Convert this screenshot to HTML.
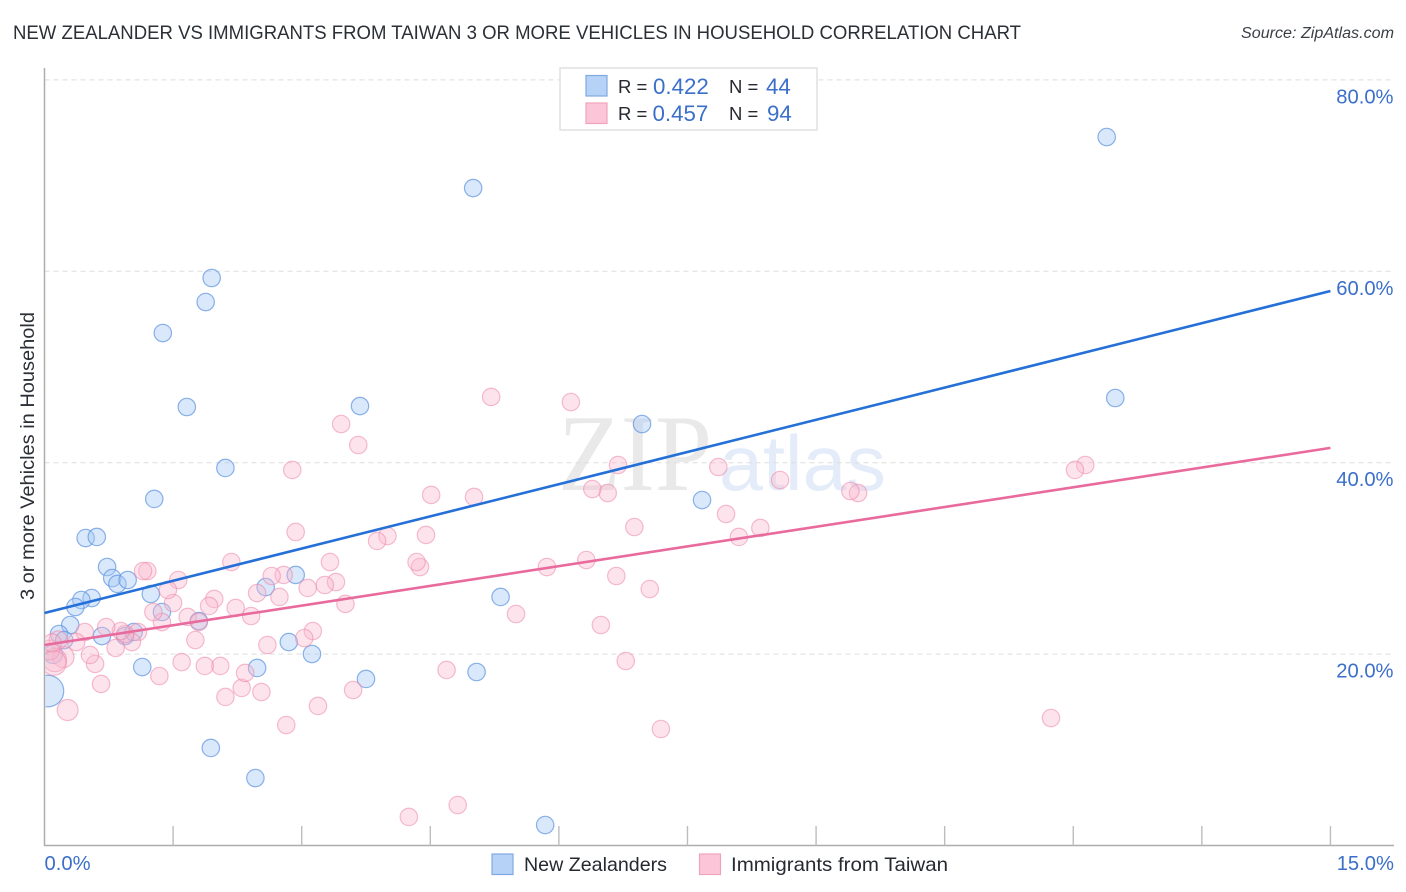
<!DOCTYPE html>
<html lang="en">
<head>
<meta charset="utf-8">
<title>New Zealander vs Immigrants from Taiwan correlation chart</title>
<style>
html,body{margin:0;padding:0;background:#fff;}
svg{display:block;}
text{font-family:"Liberation Sans",sans-serif;}
</style>
</head>
<body>
<svg id="chart" width="1406" height="892" viewBox="0 0 1406 892" xmlns="http://www.w3.org/2000/svg">
  <defs><clipPath id="plot-clip"><rect x="45.5" y="60" width="1350" height="785"/></clipPath></defs>
  <rect x="0" y="0" width="1406" height="892" fill="#ffffff"/>
  <text x="13" y="39" font-size="19.5" fill="#2b2f36" textLength="1008" lengthAdjust="spacingAndGlyphs">NEW ZEALANDER VS IMMIGRANTS FROM TAIWAN 3 OR MORE VEHICLES IN HOUSEHOLD CORRELATION CHART</text>
  <text x="1241" y="38" font-size="15.5" font-style="italic" fill="#3a3f46" textLength="153" lengthAdjust="spacingAndGlyphs">Source: ZipAtlas.com</text>
  <text transform="translate(34,456) rotate(-90)" font-size="19.5" fill="#2b2f36" text-anchor="middle" textLength="288" lengthAdjust="spacingAndGlyphs">3 or more Vehicles in Household</text>

  <g>
    <text x="558" y="490" font-size="109" fill="#e9e9e9" style="font-family:'Liberation Serif',serif" textLength="154" lengthAdjust="spacingAndGlyphs">ZIP</text>
    <text x="719" y="490" font-size="78" fill="#e4ecf9" textLength="167" lengthAdjust="spacingAndGlyphs">atlas</text>
  </g>

  <g id="grid"></g>
  <g id="axes">
    <line x1="44.5" y1="68" x2="44.5" y2="846" stroke="#aeaeae" stroke-width="1.5"/>
    <line x1="44" y1="845.5" x2="1394" y2="845.5" stroke="#aeaeae" stroke-width="1.5"/>
  </g>
  <g id="x-ticks"></g>
  <g id="tick-labels"></g>
  <g id="points" clip-path="url(#plot-clip)"></g>
  <g id="trends"></g>

  <g>
    <rect x="560" y="68" width="257" height="62" fill="#ffffff" stroke="#dcdcdc" stroke-width="1.3"/>
    <rect x="586" y="75.5" width="21" height="20.5" fill="#b6d2f6" stroke="#7fa9e2" stroke-width="1.2"/>
    <rect x="586" y="103" width="21" height="20.5" fill="#fcc6d8" stroke="#f0a3bd" stroke-width="1.2"/>
    <text x="618" y="93" font-size="18.5" fill="#26292f">R =</text>
    <text x="653" y="94" font-size="22.3" fill="#3b6fca">0.422</text>
    <text x="729" y="93" font-size="18.5" fill="#26292f">N =</text>
    <text x="766" y="94" font-size="22.3" fill="#3b6fca">44</text>
    <text x="618" y="120" font-size="18.5" fill="#26292f">R =</text>
    <text x="652.5" y="121" font-size="22.3" fill="#3b6fca">0.457</text>
    <text x="729" y="120" font-size="18.5" fill="#26292f">N =</text>
    <text x="767" y="121" font-size="22.3" fill="#3b6fca">94</text>
  </g>

  <g>
    <g>
      <rect x="492" y="854" width="21" height="20.5" fill="#b6d2f6" stroke="#7fa9e2" stroke-width="1.2"/>
      <text x="524" y="871" font-size="19.5" fill="#26292f" textLength="143" lengthAdjust="spacingAndGlyphs">New Zealanders</text>
    </g>
    <g>
      <rect x="699.5" y="854" width="21" height="20.5" fill="#fcc6d8" stroke="#f0a3bd" stroke-width="1.2"/>
      <text x="731" y="871" font-size="19.5" fill="#26292f" textLength="217" lengthAdjust="spacingAndGlyphs">Immigrants from Taiwan</text>
    </g>
  </g>
</svg>
<script>
// ---- chart data (percent units) ----
const yGridValues = [20, 40, 60, 80];
const yTickLabels = ["20.0%", "40.0%", "60.0%", "80.0%"];
const xTickValues = [1.5, 3, 4.5, 6, 7.5, 9, 10.5, 12, 13.5, 15];
const xEndValues = [0, 15];
const xEndLabels = ["0.0%", "15.0%"];

const blueX = [12.39,5.00,1.95,1.88,1.38,1.66,3.68,6.97,12.49,2.11,1.28,7.67,0.48,0.61,0.73,0.79,0.85,0.97,0.55,0.43,0.36,1.24,1.37,1.80,2.58,2.93,5.32,0.30,0.17,0.23,0.67,0.94,1.04,0.10,2.85,3.12,1.14,2.48,3.75,5.04,1.94,2.46,5.84,0.04];
const blueY = [74.03,68.70,59.30,56.79,53.55,45.82,45.92,44.04,46.76,39.45,36.21,36.10,32.13,32.24,29.10,27.95,27.33,27.74,25.86,25.65,24.92,26.28,24.40,23.46,27.01,28.27,25.97,23.04,22.10,21.47,21.89,21.89,22.31,20.01,21.26,20.01,18.65,18.55,17.40,18.13,10.19,7.05,2.14,16.14];
const blueWeight = [1,1,1,1,1,1,1,1,1,1,1,1,1,1,1,1,1,1,1,1,1,1,1,1,1,1,1,1,1,1,1,1,1,1.2,1,1,1,1,1,1,1,1,1,3.3];

const pinkX = [12.14,12.02,11.74,9.49,9.40,8.58,8.35,8.10,7.95,7.86,7.19,7.06,6.88,6.78,6.69,6.67,6.57,6.49,6.39,6.32,6.14,5.86,5.50,5.21,5.01,4.69,4.51,4.45,4.38,4.34,4.82,4.25,4.00,3.88,3.66,3.46,3.60,3.51,3.40,3.33,3.27,3.07,2.93,2.89,3.13,3.03,3.19,2.82,2.79,2.65,2.74,2.60,2.48,2.53,2.41,2.30,2.34,2.11,2.23,2.18,2.05,1.98,1.92,1.87,1.76,1.67,1.80,1.60,1.56,1.50,1.44,1.37,1.27,1.34,1.20,1.15,1.09,1.02,0.94,0.89,0.83,0.72,0.66,0.59,0.53,0.47,0.37,0.27,0.22,0.16,0.12,0.06,0.09,0.11];
const pinkY = [39.76,39.24,13.32,36.83,37.04,38.19,33.18,32.24,34.64,39.55,12.17,26.80,33.28,19.28,39.76,28.16,36.83,23.04,37.25,29.83,46.34,29.10,24.19,46.87,36.42,18.34,36.63,32.45,29.10,29.62,4.23,2.98,32.34,31.82,41.85,44.04,16.25,25.24,27.53,29.62,27.22,26.91,32.76,39.24,22.41,21.68,14.58,12.59,28.27,28.16,25.97,20.95,26.38,16.04,23.98,16.46,18.03,15.52,24.82,29.62,18.76,25.76,25.03,18.76,21.47,23.88,23.35,19.17,27.74,25.34,26.70,23.35,24.40,17.71,28.68,28.68,22.31,21.26,22.10,22.41,20.64,22.83,16.88,18.97,19.91,22.31,21.26,14.16,19.70,21.47,19.38,20.43,21.16,19.07];
const pinkWeight = [1,1,1,1,1,1,1,1,1,1,1,1,1,1,1,1,1,1,1,1,1,1,1,1,1,1,1,1,1,1,1,1,1,1,1,1,1,1,1,1,1,1,1,1,1,1,1,1,1,1,1,1,1,1,1,1,1,1,1,1,1,1,1,1,1,1,1,1,1,1,1,1,1,1,1,1,1,1,1,1,1,1,1,1,1,1,1,1.45,1.5,1.1,1.8,1.3,1.1,2.0];

const blueTrendX = [0, 15];
const blueTrendY = [24.3, 57.94];
const pinkTrendX = [0, 15];
const pinkTrendY = [20.95, 41.55];

// ---- axis functions ----
function xScale(v) { return 44.5 + v * 85.73; }
function yScale(v) { return 845.5 - v * 9.57; }
function rScale(w) { return 8.7 * Math.sqrt(w); }

const NS = "http://www.w3.org/2000/svg";
function make(tag, parentId, props) {
  const el = document.createElementNS(NS, tag);
  for (const k in props) el.setAttribute(k, props[k]);
  document.getElementById(parentId).appendChild(el);
  return el;
}

// gridlines and y labels
yGridValues.forEach(function (v, i) {
  const g = make("line", "grid", {
    x1: 44.5, x2: 1393, y1: yScale(v), y2: yScale(v),
    stroke: "#dddddd", "stroke-width": 1, "stroke-dasharray": "5 4"
  });
  
  
  const t = make("text", "tick-labels", {
    x: 1393.5, y: yScale(v) + 23.5, "text-anchor": "end", "font-size": 20.2, fill: "#3b6fca"
  });
  t.textContent = yTickLabels[i];
  
  
});

// x ticks
xTickValues.forEach(function (v) {
  const l = make("line", "x-ticks", {
    x1: xScale(v), x2: xScale(v), y1: 826, y2: 845.5,
    stroke: "#bdbdbd", "stroke-width": 1.4
  });
  
  
});

// x end labels
xEndValues.forEach(function (v, i) {
  const t = make("text", "tick-labels", {
    x: i === 0 ? xScale(v) : xScale(v) + 63.5, y: 870,
    "text-anchor": i === 0 ? "start" : "end", "font-size": 20.2, fill: "#3b6fca"
  });
  t.textContent = xEndLabels[i];
  
  
});

// scatter points
blueX.forEach(function (v, i) {
  const c = make("circle", "points", {
    cx: xScale(v), cy: yScale(blueY[i]), r: rScale(blueWeight[i]),
    fill: "rgba(165,200,245,0.42)", stroke: "rgba(95,148,224,0.72)", "stroke-width": 1.2
  });
  
  
});
pinkX.forEach(function (v, i) {
  const c = make("circle", "points", {
    cx: xScale(v), cy: yScale(pinkY[i]), r: rScale(pinkWeight[i]),
    fill: "rgba(250,185,206,0.38)", stroke: "rgba(236,135,170,0.55)", "stroke-width": 1.2
  });
  
  
});

// trend lines
const blueLine = make("line", "trends", {
  x1: xScale(blueTrendX[0]), y1: yScale(blueTrendY[0]),
  x2: xScale(blueTrendX[1]), y2: yScale(blueTrendY[1]),
  stroke: "#2470d8", "stroke-width": 2.6
});


const pinkLine = make("line", "trends", {
  x1: xScale(pinkTrendX[0]), y1: yScale(pinkTrendY[0]),
  x2: xScale(pinkTrendX[1]), y2: yScale(pinkTrendY[1]),
  stroke: "#e96a9c", "stroke-width": 2.6
});


</script>
</body>
</html>
